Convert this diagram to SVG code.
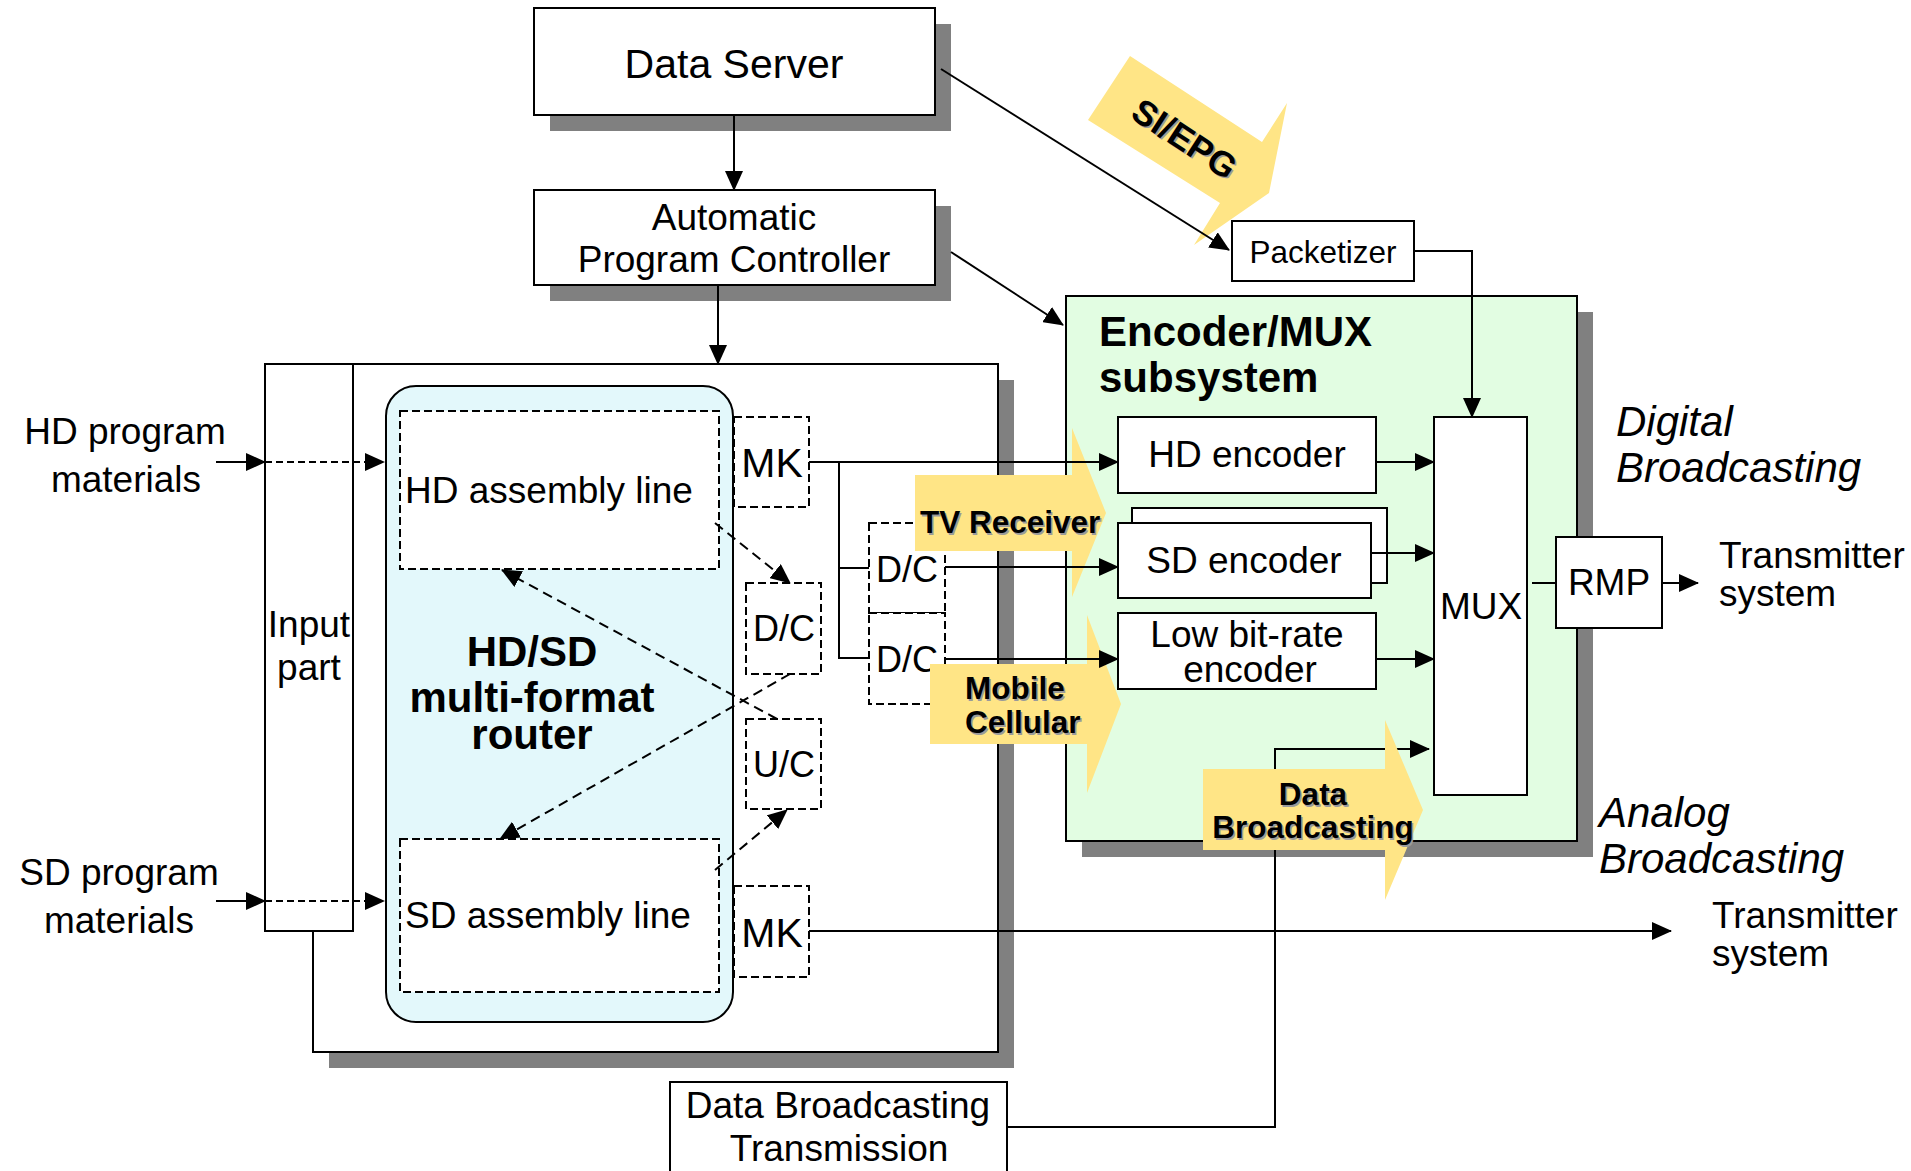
<svg xmlns="http://www.w3.org/2000/svg" width="1911" height="1171" viewBox="0 0 1911 1171">
  <style>
    .shadow { fill: #808080; }
    .box { fill: #ffffff; stroke: #000; stroke-width: 2; }
    .dbox { fill: #ffffff; stroke: #000; stroke-width: 2; stroke-dasharray: 8 4; }
    .ln { fill: none; stroke: #000; stroke-width: 2; }
    .dl { stroke-dasharray: 10 6; }
    .di { stroke-dasharray: 7 4; }
    .hl { fill: #ffe586; }
    text { font-family: "Liberation Sans", Arial, Helvetica, sans-serif; fill: #000; }
    .t37 { font-size: 37px; }
    .t36 { font-size: 36px; }
    .mid { text-anchor: middle; }
    .bold { font-weight: bold; }
    .ital { font-style: italic; font-size: 42px; }
    .lbl { font-weight: bold; font-size: 31.5px; }
    .lsh { fill: #9a9a9a; }
  </style>
  <defs>
    <marker id="ah" viewBox="0 0 20 18" refX="19" refY="9" markerWidth="20" markerHeight="18" markerUnits="userSpaceOnUse" orient="auto">
      <path d="M0,0 L20,9 L0,18 z" fill="#000"/>
    </marker>
  </defs>

  <rect width="1911" height="1171" fill="#ffffff"/>

  <!-- Data server -->
  <g id="data-server">
    <rect class="shadow" x="550" y="24" width="401" height="107"/>
    <rect class="box" x="534" y="8" width="401" height="107"/>
    <text class="mid" x="734" y="78" font-size="41">Data Server</text>
  </g>

  <!-- Automatic program controller -->
  <g id="program-controller">
    <rect class="shadow" x="550" y="206" width="401" height="95"/>
    <rect class="box" x="534" y="190" width="401" height="95"/>
    <text class="t37 mid" x="734" y="230">Automatic</text>
    <text class="t37 mid" x="734" y="272">Program Controller</text>
  </g>

  <!-- Packetizer -->
  <g id="packetizer">
    <rect class="box" x="1232" y="221" width="182" height="60"/>
    <text class="mid" x="1323" y="263" font-size="31.5">Packetizer</text>
  </g>

  <!-- Router subsystem frame -->
  <g id="router-frame">
    <rect class="shadow" x="329" y="380" width="685" height="688"/>
    <rect class="box" x="313" y="364" width="685" height="688"/>
  </g>

  <g id="input-part">
    <rect class="box" x="265" y="364" width="88" height="567"/>
    <text class="t37 mid" x="309" y="637">Input</text>
    <text class="t37 mid" x="309" y="680">part</text>
  </g>

  <g id="router">
    <rect x="386" y="386" width="347" height="636" rx="30" ry="30" fill="#e3f8fb" stroke="#000" stroke-width="2"/>
    <text class="bold mid" x="532" y="666" font-size="42">HD/SD</text>
    <text class="bold mid" x="532" y="712" font-size="42">multi-format</text>
    <text class="bold mid" x="532" y="749" font-size="42">router</text>
  </g>

  <g id="hd-assembly">
    <rect class="dbox" x="400" y="411" width="319" height="158"/>
    <text class="t37" x="405" y="503">HD assembly line</text>
  </g>
  <g id="sd-assembly">
    <rect class="dbox" x="400" y="839" width="319" height="153"/>
    <text class="t37" x="405" y="928">SD assembly line</text>
  </g>

  <g id="mk-hd">
    <rect class="dbox" x="734" y="417" width="75" height="90"/>
    <text class="mid" x="772" y="477" font-size="41">MK</text>
  </g>
  <g id="mk-sd">
    <rect class="dbox" x="734" y="886" width="75" height="91"/>
    <text class="mid" x="772" y="947" font-size="41">MK</text>
  </g>
  <g id="dc-router">
    <rect class="dbox" x="746" y="583" width="75" height="91"/>
    <text class="t36 mid" x="784" y="641">D/C</text>
  </g>
  <g id="uc-router">
    <rect class="dbox" x="746" y="719" width="75" height="90"/>
    <text class="t36 mid" x="784" y="777">U/C</text>
  </g>
  <g id="dc-tv">
    <rect class="dbox" x="869" y="523" width="76" height="90"/>
    <text class="t36 mid" x="907" y="582">D/C</text>
  </g>
  <g id="dc-mobile">
    <rect class="dbox" x="869" y="613" width="76" height="91"/>
    <text class="t36 mid" x="907" y="672">D/C</text>
  </g>

  <!-- Encoder / MUX subsystem -->
  <g id="encoder-mux">
    <rect class="shadow" x="1082" y="312" width="511" height="545"/>
    <rect x="1066" y="296" width="511" height="545" fill="#e2fde2" stroke="#000" stroke-width="2"/>
    <text class="bold" x="1099" y="346" font-size="42">Encoder/MUX</text>
    <text class="bold" x="1099" y="392" font-size="42">subsystem</text>
  </g>
  <g id="hd-encoder">
    <rect class="box" x="1118" y="417" width="258" height="76"/>
    <text class="t37 mid" x="1247" y="467">HD encoder</text>
  </g>
  <g id="sd-encoder">
    <rect class="box" x="1132" y="508" width="255" height="75"/>
    <rect class="box" x="1118" y="523" width="253" height="75"/>
    <text class="t37 mid" x="1244" y="573">SD encoder</text>
  </g>
  <g id="low-encoder">
    <rect class="box" x="1118" y="613" width="258" height="76"/>
    <text class="t37 mid" x="1247" y="647">Low bit-rate</text>
    <text class="t37 mid" x="1250" y="682">encoder</text>
  </g>
  <g id="mux">
    <rect class="box" x="1434" y="417" width="93" height="378"/>
    <text class="t37 mid" x="1481" y="619">MUX</text>
  </g>
  <g id="rmp">
    <rect class="box" x="1556" y="537" width="106" height="91"/>
    <text class="t37 mid" x="1609" y="595">RMP</text>
  </g>

  <g id="data-tx">
    <rect class="box" x="670" y="1082" width="337" height="100"/>
    <text class="t37 mid" x="838" y="1118">Data Broadcasting</text>
    <text class="t37 mid" x="839" y="1161">Transmission</text>
  </g>

  <!-- Data broadcasting feed, partly hidden under its label arrow -->
  <g id="data-feed">
    <polyline class="ln" points="1007,1127 1275,1127 1275,749 1429,749" marker-end="url(#ah)"/>
  </g>

  <!-- Service label arrows -->
  <g id="label-arrows">
    <polygon class="hl" points="1130,56 1262,142 1287,103 1269,193 1194,245 1220,203 1088,120"/>
    <polygon class="hl" points="915,475 1072,475 1072,428 1106,513 1072,597 1072,551 915,551"/>
    <polygon class="hl" points="930,664 1087,664 1087,615 1121,704 1087,793 1087,744 930,744"/>
    <polygon class="hl" points="1203,769 1385,769 1385,720 1423,810 1385,900 1385,850 1203,850"/>
  </g>

  <!-- Connectors -->
  <g id="connectors">
    <line class="ln" x1="734" y1="115" x2="734" y2="190" marker-end="url(#ah)"/>
    <line class="ln" x1="718" y1="285" x2="718" y2="364" marker-end="url(#ah)"/>
    <line class="ln" x1="941" y1="69" x2="1229" y2="250" marker-end="url(#ah)"/>
    <line class="ln" x1="951" y1="252" x2="1063" y2="325" marker-end="url(#ah)"/>
    <polyline class="ln" points="1414,251 1472,251 1472,417" marker-end="url(#ah)"/>

    <line class="ln" x1="216" y1="462" x2="265" y2="462" marker-end="url(#ah)"/>
    <line class="ln di" x1="265" y1="462" x2="384" y2="462" marker-end="url(#ah)"/>
    <line class="ln" x1="216" y1="901" x2="265" y2="901" marker-end="url(#ah)"/>
    <line class="ln di" x1="265" y1="901" x2="384" y2="901" marker-end="url(#ah)"/>

    <line class="ln dl" x1="715" y1="523" x2="790" y2="583" marker-end="url(#ah)"/>
    <line class="ln dl" x1="790" y1="674" x2="500" y2="839" marker-end="url(#ah)"/>
    <line class="ln dl" x1="777" y1="719" x2="502" y2="570" marker-end="url(#ah)"/>
    <line class="ln dl" x1="715" y1="870" x2="787" y2="810" marker-end="url(#ah)"/>

    <line class="ln" x1="809" y1="462" x2="1118" y2="462" marker-end="url(#ah)"/>
    <polyline class="ln" points="839,462 839,658 869,658"/>
    <line class="ln" x1="839" y1="568" x2="869" y2="568"/>
    <line class="ln" x1="945" y1="567" x2="1118" y2="567" marker-end="url(#ah)"/>
    <line class="ln" x1="945" y1="659" x2="1118" y2="659" marker-end="url(#ah)"/>

    <line class="ln" x1="1376" y1="462" x2="1434" y2="462" marker-end="url(#ah)"/>
    <line class="ln" x1="1371" y1="553" x2="1434" y2="553" marker-end="url(#ah)"/>
    <line class="ln" x1="1376" y1="659" x2="1434" y2="659" marker-end="url(#ah)"/>
    <line class="ln" x1="1532" y1="583" x2="1556" y2="583"/>
    <line class="ln" x1="1662" y1="583" x2="1698" y2="583" marker-end="url(#ah)"/>

    <line class="ln" x1="809" y1="931" x2="1671" y2="931" marker-end="url(#ah)"/>
  </g>

  <!-- Label arrow captions -->
  <g id="label-text">
    <text class="lbl lsh" x="1179.5" y="150.5" text-anchor="middle" transform="rotate(33 1179.5 150.5)" style="font-size:35px">SI/EPG</text>
    <text class="lbl" x="1178" y="149" text-anchor="middle" transform="rotate(33 1178 149)" style="font-size:35px">SI/EPG</text>
    <text class="lbl lsh" x="921.5" y="534.5">TV Receiver</text>
    <text class="lbl" x="920" y="533">TV Receiver</text>
    <text class="lbl lsh" x="966.5" y="700.5">Mobile</text>
    <text class="lbl" x="965" y="699">Mobile</text>
    <text class="lbl lsh" x="966.5" y="734.5">Cellular</text>
    <text class="lbl" x="965" y="733">Cellular</text>
    <text class="lbl lsh mid" x="1314.5" y="806.5">Data</text>
    <text class="lbl mid" x="1313" y="805">Data</text>
    <text class="lbl lsh mid" x="1314.5" y="839.5">Broadcasting</text>
    <text class="lbl mid" x="1313" y="838">Broadcasting</text>
  </g>

  <!-- Free-standing labels -->
  <g id="sources">
    <text class="t37 mid" x="125" y="444">HD program</text>
    <text class="t37 mid" x="126" y="492">materials</text>
    <text class="t37 mid" x="119" y="885">SD program</text>
    <text class="t37 mid" x="119" y="933">materials</text>
  </g>
  <g id="outputs">
    <text class="ital" x="1616" y="436">Digital</text>
    <text class="ital" x="1616" y="482">Broadcasting</text>
    <text class="t37" x="1719" y="568">Transmitter</text>
    <text class="t37" x="1719" y="606">system</text>
    <text class="ital" x="1599" y="827">Analog</text>
    <text class="ital" x="1599" y="873">Broadcasting</text>
    <text class="t37" x="1712" y="928">Transmitter</text>
    <text class="t37" x="1712" y="966">system</text>
  </g>
</svg>
